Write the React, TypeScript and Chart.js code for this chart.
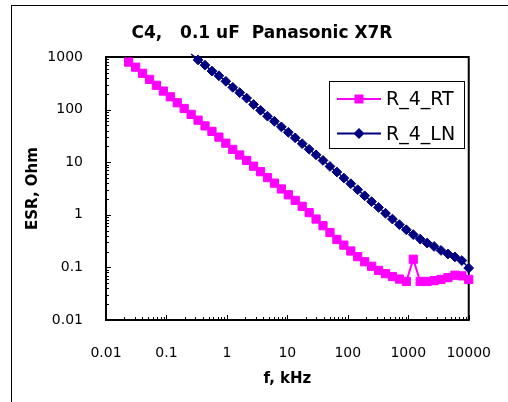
import React, { useEffect, useRef } from 'react';
import { Chart, registerables } from 'chart.js';

Chart.register(...registerables);

const TITLE = 'C4,   0.1 uF  Panasonic X7R';
const X_TITLE = 'f, kHz';
const Y_TITLE = 'ESR, Ohm';
const X_TICKS = [0.01, 0.1, 1, 10, 100, 1000, 10000];
const Y_TICKS = [0.01, 0.1, 1, 10, 100, 1000];
const X_MIN = 0.01;
const X_MAX = 10000;
const Y_MIN = 0.01;
const Y_MAX = 1000;

const RT_NAME = 'R_4_RT';
const LN_NAME = 'R_4_LN';

// measurement frequencies, kHz
const FREQ_KHZ = [
  0.0237, 0.0309, 0.0402, 0.0524, 0.0682, 0.0889, 0.1158, 0.1508, 0.1964, 0.2559,
  0.3334, 0.4343, 0.5657, 0.737, 0.96, 1.25, 1.628, 2.121, 2.763, 3.599,
  4.689, 6.108, 7.957, 10.37, 13.5, 17.59, 22.91, 29.85, 38.88, 50.65,
  65.98, 85.95, 111.9, 145.8, 190, 247.5, 322.4, 419.9, 547, 712.6,
  928.3, 1209, 1575, 2052, 2673, 3482, 4536, 5909, 7697, 10000,
  13020,
];

// ESR, Ohm
const ESR_RT = [
  800, 640, 490, 375, 290, 225, 175, 135, 105, 81,
  63, 49, 38.5, 30, 23, 17.5, 13.7, 10.8, 8.4, 6.6,
  5.1, 4.0, 3.1, 2.4, 1.88, 1.45, 1.1, 0.83, 0.62, 0.46,
  0.34, 0.265, 0.205, 0.16, 0.128, 0.105, 0.088, 0.076, 0.067, 0.06,
  0.054, 0.143, 0.054, 0.054, 0.056, 0.059, 0.064, 0.071, 0.069, 0.059,
  0.033,
];

const ESR_LN = [
  null, null, null, null, null, null, null, null, null, 1140,
  880, 700, 540, 440, 345, 265, 210, 165, 125, 97,
  75, 60, 47, 37, 29, 22.5, 17.6, 13.8, 10.8, 8.3,
  6.5, 5.0, 3.9, 3.0, 2.3, 1.78, 1.38, 1.07, 0.83, 0.65,
  0.52, 0.42, 0.345, 0.29, 0.25, 0.21, 0.18, 0.158, 0.135, 0.097,
  0.024,
];

const RT_COLOR = '#FF00FF';
const LN_COLOR = '#000080';

function toPoints(values: (number | null)[]) {
  const pts: { x: number; y: number }[] = [];
  values.forEach((v, i) => {
    if (v !== null) pts.push({ x: FREQ_KHZ[i], y: v });
  });
  return pts;
}

function inRange(p: { x: number; y: number }) {
  return p && p.x >= X_MIN && p.x <= X_MAX && p.y >= Y_MIN && p.y <= Y_MAX;
}

const decorPlugin = {
  id: 'decor',
  beforeDatasetsDraw(chart: any) {
    const ctx = chart.ctx;
    const { left, right, top, bottom } = chart.chartArea;
    const xs = chart.scales.x;
    const ys = chart.scales.y;
    ctx.save();
    ctx.strokeStyle = '#000';
    ctx.lineWidth = 1;
    ctx.beginPath();
    for (let e = -2; e <= 4; e++) {
      for (let m = 1; m <= 9; m++) {
        const v = m * Math.pow(10, e);
        if (v < X_MIN || v > X_MAX) continue;
        const px = Math.round(xs.getPixelForValue(v)) + 0.5;
        const len = m === 1 ? 5 : 3;
        ctx.moveTo(px, bottom);
        ctx.lineTo(px, bottom - len);
      }
    }
    for (let e = -2; e <= 3; e++) {
      for (let m = 1; m <= 9; m++) {
        const v = m * Math.pow(10, e);
        if (v < Y_MIN || v > Y_MAX) continue;
        const py = Math.round(ys.getPixelForValue(v)) + 0.5;
        const len = m === 1 ? 5 : 3;
        ctx.moveTo(left, py);
        ctx.lineTo(left + len, py);
      }
    }
    ctx.stroke();
    ctx.lineWidth = 2;
    ctx.strokeRect(left, top, right - left, bottom - top);
    ctx.restore();
  },
  afterDatasetsDraw(chart: any) {
    const ctx = chart.ctx;
    ctx.save();
    // legend
    const bx = 329.5, by = 81.5, bw = 135, bh = 67;
    ctx.fillStyle = '#fff';
    ctx.fillRect(bx, by, bw, bh);
    ctx.strokeStyle = '#000';
    ctx.lineWidth = 1;
    ctx.strokeRect(bx, by, bw, bh);

    const rows = [
      { name: RT_NAME, color: RT_COLOR, y: 99, shape: 'rect' },
      { name: LN_NAME, color: LN_COLOR, y: 133.5, shape: 'diamond' },
    ];
    rows.forEach((r) => {
      ctx.strokeStyle = r.color;
      ctx.lineWidth = 2;
      ctx.beginPath();
      ctx.moveTo(337, r.y);
      ctx.lineTo(381, r.y);
      ctx.stroke();
      ctx.fillStyle = r.color;
      ctx.beginPath();
      if (r.shape === 'rect') {
        ctx.rect(359 - 4.5, r.y - 4.5, 9, 9);
      } else {
        const s = 5.5;
        ctx.moveTo(359 - s, r.y);
        ctx.lineTo(359, r.y - s);
        ctx.lineTo(359 + s, r.y);
        ctx.lineTo(359, r.y + s);
        ctx.closePath();
      }
      ctx.fill();
      ctx.fillStyle = '#000';
      ctx.font = "19px 'DejaVu Sans'";
      ctx.textAlign = 'left';
      ctx.textBaseline = 'alphabetic';
      ctx.fillText(r.name, 386, r.y + 6);
    });
    ctx.restore();
  },
  afterDraw(chart: any) {
    const ctx = chart.ctx;
    ctx.save();
    ctx.fillStyle = '#000';
    ctx.fillRect(11, 5, 497, 1);
    ctx.fillRect(11, 5, 1, 397);
    ctx.font = "bold 17px 'DejaVu Sans'";
    ctx.textAlign = 'center';
    ctx.textBaseline = 'alphabetic';
    ctx.fillText(TITLE, 262, 38);
    ctx.restore();
  },
};

export default function App() {
  const ref = useRef<HTMLCanvasElement>(null);

  useEffect(() => {
    if (!ref.current) return;
    Chart.defaults.font.family = "'DejaVu Sans', sans-serif";
    Chart.defaults.color = '#000';
    const radiusFor = (r: number) => (c: any) => (inRange(c.raw) ? r : 0);
    const chart = new Chart(ref.current, {
      type: 'line',
      data: {
        datasets: [
          {
            label: RT_NAME,
            data: toPoints(ESR_RT),
            borderColor: RT_COLOR,
            backgroundColor: RT_COLOR,
            borderWidth: 2,
            pointStyle: 'rect',
            pointRadius: radiusFor(5.8),
            pointBorderWidth: 1,
            pointBackgroundColor: RT_COLOR,
            pointBorderColor: RT_COLOR,
            tension: 0,
            clip: false,
          },
          {
            label: LN_NAME,
            data: toPoints(ESR_LN),
            borderColor: LN_COLOR,
            backgroundColor: LN_COLOR,
            borderWidth: 1.5,
            pointStyle: 'rectRot',
            pointRadius: radiusFor(4.9),
            pointBorderWidth: 1,
            pointBackgroundColor: LN_COLOR,
            pointBorderColor: LN_COLOR,
            tension: 0,
            clip: false,
          },
        ],
      } as any,
      options: {
        animation: false,
        responsive: false,
        events: [],
        layout: { padding: { top: 57, right: 29, left: 0, bottom: 0 } },
        plugins: {
          legend: { display: false },
          title: { display: false },
          tooltip: { enabled: false },
        },
        scales: {
          x: {
            type: 'logarithmic',
            min: X_MIN,
            max: X_MAX,
            grid: { display: false },
            border: { display: false },
            ticks: {
              autoSkip: false,
              maxRotation: 0,
              padding: 17,
              font: { size: 14 },
              color: '#000',
              callback: (v: any) => String(v),
            },
            afterBuildTicks: (s: any) => {
              s.ticks = X_TICKS.map((v) => ({ value: v }));
            },
            afterFit: (s: any) => {
              s.height = 82;
            },
            title: {
              display: true,
              text: X_TITLE,
              font: { size: 15, weight: 'bold' },
              color: '#000',
              padding: { top: 0, bottom: 13.5 },
            },
          },
          y: {
            type: 'logarithmic',
            min: Y_MIN,
            max: Y_MAX,
            grid: { display: false },
            border: { display: false },
            ticks: {
              autoSkip: false,
              padding: 15,
              font: { size: 14 },
              color: '#000',
              callback: (v: any) => String(v),
            },
            afterBuildTicks: (s: any) => {
              s.ticks = Y_TICKS.map((v) => ({ value: v }));
            },
            afterFit: (s: any) => {
              s.width = 106;
            },
            title: {
              display: true,
              text: Y_TITLE,
              font: { size: 15, weight: 'bold' },
              color: '#000',
              padding: { top: 24.5, bottom: 0 },
            },
          },
        },
      } as any,
      plugins: [decorPlugin],
    });
    return () => chart.destroy();
  }, []);

  return (
    <canvas
      ref={ref}
      width={508}
      height={402}
      style={{ position: 'absolute', left: 0, top: 0, width: 508, height: 402, background: '#fff' }}
    />
  );
}
